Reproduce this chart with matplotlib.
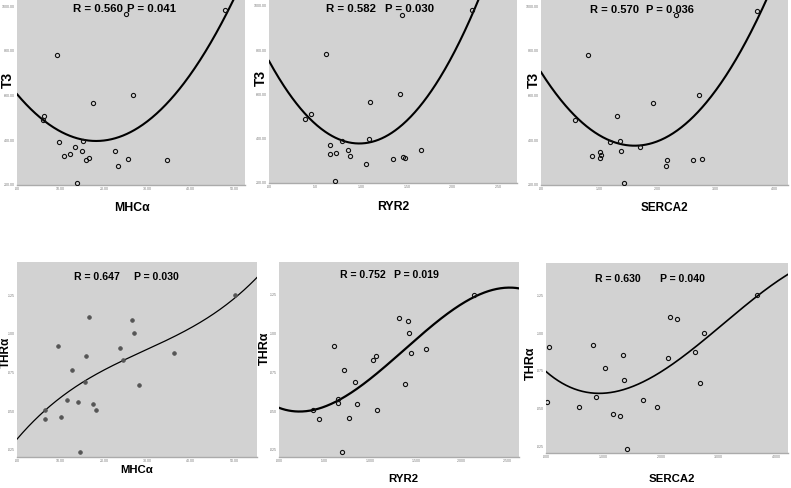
import numpy as np
import matplotlib
matplotlib.use("Agg")
import matplotlib.pyplot as plt

# ---------------- data ----------------
t3_mhca_x = [6.2, 6.0, 9.1, 9.7, 10.9, 12.1, 13.4, 13.8, 15.0, 15.2, 15.8, 16.6, 17.5, 22.5, 23.2, 25.2, 25.6, 26.8, 34.6, 47.8]
t3_mhca_y = [510, 492, 782, 391, 331, 337, 372, 210, 351, 397, 310, 321, 567, 351, 287, 963, 315, 601, 313, 981]

t3_ryr2_x = [0.392, 0.454, 0.625, 0.665, 0.669, 0.720, 0.734, 0.792, 0.858, 0.887, 1.054, 1.094, 1.105, 1.352, 1.421, 1.446, 1.461, 1.486, 1.653, 2.209]
t3_ryr2_y = [491, 511, 781, 370, 331, 211, 337, 390, 351, 321, 286, 398, 567, 310, 600, 961, 316, 313, 351, 980]

t3_serca2_x = [0.577, 0.806, 0.869, 1.006, 1.006, 1.023, 1.177, 1.297, 1.349, 1.371, 1.423, 1.703, 1.931, 2.143, 2.171, 2.309, 2.606, 2.709, 2.771, 3.709]
t3_serca2_y = [491, 781, 331, 349, 319, 334, 390, 510, 397, 351, 210, 369, 566, 287, 310, 960, 313, 601, 316, 979]

thr_mhca_x = [6.46, 6.54, 9.54, 10.15, 11.4, 12.7, 14.0, 14.5, 15.7, 15.8, 16.5, 17.4, 18.2, 23.6, 24.3, 26.5, 26.8, 28.0, 36.2, 50.1]
thr_mhca_y = [0.0450, 0.0506, 0.0922, 0.0459, 0.0573, 0.0769, 0.0556, 0.0233, 0.0687, 0.0856, 0.1108, 0.0545, 0.0509, 0.0907, 0.0832, 0.1088, 0.1009, 0.0672, 0.0877, 0.1252]

thr_ryr2_x = [0.376, 0.434, 0.606, 0.646, 0.646, 0.693, 0.712, 0.766, 0.828, 0.858, 1.026, 1.062, 1.069, 1.310, 1.383, 1.409, 1.420, 1.442, 1.613, 2.142]
thr_ryr2_y = [0.0504, 0.0446, 0.0920, 0.0575, 0.0554, 0.0233, 0.0765, 0.0457, 0.0687, 0.0545, 0.0828, 0.0853, 0.0504, 0.1103, 0.0672, 0.1084, 0.1004, 0.0873, 0.0903, 0.1252]

thr_serca2_x = [0.012, 0.058, 0.576, 0.813, 0.865, 1.020, 1.170, 1.291, 1.331, 1.360, 1.412, 1.689, 1.919, 2.121, 2.150, 2.282, 2.582, 2.680, 2.744, 3.666]
thr_serca2_y = [0.0546, 0.0907, 0.0511, 0.0922, 0.0575, 0.0772, 0.0465, 0.0454, 0.0856, 0.0688, 0.0235, 0.0557, 0.0511, 0.0834, 0.1108, 0.1091, 0.0876, 0.0670, 0.1004, 0.1254]

x_names = ["MHCα", "RYR2", "SERCA2", "MHCα", "RYR2", "SERCA2"]
y_names = ["T3", "T3", "T3", "THRα", "THRα", "THRα"]
r_texts = ["R = 0.560", "R = 0.582", "R = 0.570", "R = 0.647", "R = 0.752", "R = 0.630"]
p_texts = ["P = 0.041", "P = 0.030", "P = 0.036", "P = 0.030", "P = 0.019", "P = 0.040"]

t3_ticks = [200, 400, 600, 800, 1000]
t3_ticklabels = ["200.00", "400.00", "600.00", "800.00", "1000.00"]
thr_ticks = [0.025, 0.050, 0.075, 0.100, 0.125]
thr_ticklabels = [".025", ".050", ".075", ".100", ".125"]
mhca_top_ticks = [0, 10, 20, 30, 40, 50]
mhca_top_labels = [".00", "10.00", "20.00", "30.00", "40.00", "50.00"]
ryr2_top_ticks = [0, 0.5, 1.0, 1.5, 2.0, 2.5]
ryr2_top_labels = [".00", ".50", "1.00", "1.50", "2.00", "2.50"]
serca2_top_ticks = [0, 1, 2, 3, 4]
serca2_top_labels = [".00", "1.00", "2.00", "3.00", "4.00"]
mhca_bot_ticks = [0, 10, 20, 30, 40, 50]
mhca_bot_labels = [".00", "10.00", "20.00", "30.00", "40.00", "50.00"]
ryr2_bot_ticks = [0, 0.5, 1.0, 1.5, 2.0, 2.5]
ryr2_bot_labels = [".000", ".500", "1.000", "1.500", "2.000", "2.500"]
serca2_bot_ticks = [0, 1, 2, 3, 4]
serca2_bot_labels = [".000", "1.000", "2.000", "3.000", "4.000"]

# ---------------- layout ----------------
W, H = 791, 488
fig = plt.figure(figsize=(W / 100, H / 100), dpi=100)
fig.patch.set_facecolor("white")

FONT = ["Liberation Sans", "DejaVu Sans"]

# pixel boxes: left, right, top, bottom
boxes = [
    (17, 245, 0, 185),
    (269, 517, 0, 183),
    (541, 788, 0, 185),
    (17, 257, 262, 457),
    (279, 519, 262, 457),
    (546, 788, 263, 453),
]
xlims = [(0, 52.5), (0, 2.70), (0, 4.24), (0, 55.2), (0, 2.63), (0, 4.2)]
ylims = [(200, 1027), (200, 1027), (200, 1027),
         (0.0203, 0.1466), (0.0203, 0.1463), (0.0206, 0.1465)]
xs = [t3_mhca_x, t3_ryr2_x, t3_serca2_x, thr_mhca_x, thr_ryr2_x, thr_serca2_x]
ys = [t3_mhca_y, t3_ryr2_y, t3_serca2_y, thr_mhca_y, thr_ryr2_y, thr_serca2_y]
degrees = [2, 2, 2, 3, 3, 3]
xticks = [(mhca_top_ticks, mhca_top_labels), (ryr2_top_ticks, ryr2_top_labels),
          (serca2_top_ticks, serca2_top_labels), (mhca_bot_ticks, mhca_bot_labels),
          (ryr2_bot_ticks, ryr2_bot_labels), (serca2_bot_ticks, serca2_bot_labels)]
yticks = [(t3_ticks, t3_ticklabels)] * 3 + [(thr_ticks, thr_ticklabels)] * 3
line_w = [1.5, 1.5, 1.5, 0.9, 1.6, 1.2]
title_size = [8.2, 8.2, 8.0, 7.6, 7.6, 7.6]
xlabel_size = [8.8, 8.8, 8.5, 8.2, 8.2, 8.2]
ylabel_size = [10, 10, 10, 8.5, 9, 9]
r_pos = [(98, 9), (351, 9), (615, 10), (97, 277), (363, 275), (618, 279)]
p_pos = [(152, 9), (410, 9), (670, 10), (156, 277), (416, 275), (683, 279)]
xlabel_pos = [(132, 208), (393, 207), (664, 208), (137, 470), (403, 479), (672, 479)]
ylabel_pos = [(8, 80), (261, 78), (534, 80), (6, 352), (265, 348), (531, 363)]

for i in range(6):
    l, r, t, b = boxes[i]
    ax = fig.add_axes([l / W, 1 - b / H, (r - l) / W, (b - t) / H])
    ax.set_facecolor("#d2d2d2")
    for s in ["top", "right", "left"]:
        ax.spines[s].set_visible(False)
    ax.spines["bottom"].set_color("#ababab")
    ax.spines["bottom"].set_linewidth(1.0)

    x = np.array(xs[i], dtype=float)
    y = np.array(ys[i], dtype=float)
    coef = np.polyfit(x, y, degrees[i])
    xx = np.linspace(xlims[i][0], xlims[i][1], 300)
    ax.plot(xx, np.polyval(coef, xx), color="black", lw=line_w[i], zorder=2)

    if i == 3:
        ax.plot(x, y, "o", ms=2.6, mfc="#555555", mec="#555555", mew=0.6, zorder=3)
    else:
        ax.plot(x, y, "o", ms=3.0, mfc="none", mec="#111111", mew=0.8, zorder=3)

    ax.set_xlim(*xlims[i])
    ax.set_ylim(*ylims[i])
    ax.set_xticks(xticks[i][0])
    ax.set_xticklabels(xticks[i][1], family=FONT)
    ax.set_yticks(yticks[i][0])
    ax.set_yticklabels(yticks[i][1], family=FONT)
    ax.tick_params(length=0, labelsize=2.6, labelcolor="#777777", pad=1.5)

    fig.text(r_pos[i][0] / W, 1 - r_pos[i][1] / H, r_texts[i], ha="center", va="center",
             fontsize=title_size[i], fontweight="bold", family=FONT, color="black")
    fig.text(p_pos[i][0] / W, 1 - p_pos[i][1] / H, p_texts[i], ha="center", va="center",
             fontsize=title_size[i], fontweight="bold", family=FONT, color="black")

    ax.set_xlabel(x_names[i], fontsize=xlabel_size[i], fontweight="bold", family=FONT)
    ax.xaxis.set_label_coords((xlabel_pos[i][0] - l) / (r - l), (b - xlabel_pos[i][1]) / (b - t))
    ax.xaxis.label.set_va("center")
    ax.set_ylabel(y_names[i], fontsize=ylabel_size[i], fontweight="bold", family=FONT)
    ax.yaxis.set_label_coords((ylabel_pos[i][0] - l) / (r - l), (b - ylabel_pos[i][1]) / (b - t))
    ax.yaxis.label.set_va("center")

fig.savefig("out.png", dpi=100)
